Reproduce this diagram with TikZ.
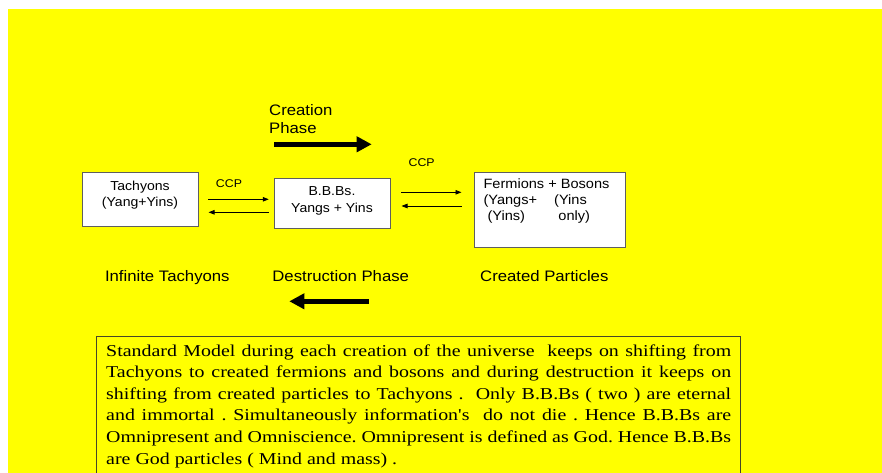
\documentclass[tikz,border=0pt]{standalone}
\usepackage{fontspec}
\setmainfont{Liberation Serif}
\setsansfont{Liberation Sans}
\newfontfamily\sansx[FakeStretch=1.1]{Liberation Sans}
\newfontfamily\sansb[FakeStretch=1.08]{Liberation Sans}
\newfontfamily\serifx[FakeStretch=1.2]{Liberation Serif}
\usetikzlibrary{arrows.meta}
\definecolor{bgyellow}{RGB}{255,255,0}
\definecolor{boxgray}{RGB}{95,95,95}
\definecolor{framegray}{RGB}{70,70,40}
\begin{document}
\frenchspacing
\begin{tikzpicture}[x=1pt,y=-1pt,
  box/.style={draw=boxgray, line width=1pt, fill=white, inner sep=0pt},
  boxtext/.style={font=\sansb\fontsize{13}{16.6}\selectfont, inner sep=0pt, anchor=base},
  lbl/.style={font=\sansx\fontsize{15.2}{17.6}\selectfont, inner sep=0pt, anchor=base},
  ccp/.style={font=\sansx\fontsize{11.2}{14}\selectfont, inner sep=0pt, anchor=base},
  thinarrow/.style={draw=black, line width=0.8pt, -{Triangle[length=6pt,width=4.5pt]}},
  bigarrow/.style={draw=black, line width=4.7pt, -{Triangle[length=15pt,width=15pt]}}
]
\useasboundingbox (0,0) rectangle (882,473);
\fill[bgyellow] (8,9) rectangle (882,473);

% boxes
\node[box, minimum width=116pt, minimum height=54pt] (T) at (140,199) {};
\node[box, minimum width=116pt, minimum height=50pt] (B) at (332,203) {};
\node[box, minimum width=151pt, minimum height=75pt] (F) at (549.5,209.5) {};

% box texts
\node[boxtext] (Tt) at (140,190) {\begin{tabular}[t]{@{}c@{}}Tachyons\\(Yang+Yins)\end{tabular}};
\node[boxtext] (Bt) at (332,195.5) {\begin{tabular}[t]{@{}c@{}}B.B.Bs.\\Yangs + Yins\end{tabular}};
\node[boxtext, anchor=base west, font=\sansb\fontsize{13.5}{16}\selectfont] (Ft) at (483.3,188.7)
  {\begin{tabular}[t]{@{}l@{}}Fermions + Bosons\\\makebox[70.7pt][l]{(Yangs+}(Yins\\\makebox[70.7pt][l]{\hspace{4pt}(Yins)}\hspace{4.3pt}only)\end{tabular}};

% CCP labels
\node[ccp] (c1) at (229,187.3) {CCP};
\node[ccp] (c2) at (421.7,166) {CCP};

% thin arrows
\coordinate (y1) at (0,199.3);
\coordinate (y2) at (0,212.3);
\coordinate (y3) at (0,192.3);
\coordinate (y4) at (0,206);
\draw[thinarrow, shorten <=9.7pt, shorten >=4.7pt] (T.east |- y1) -- (B.west |- y1);
\draw[thinarrow, shorten <=5pt, shorten >=10pt] (B.west |- y2) -- (T.east |- y2);
\draw[thinarrow, shorten <=10.7pt, shorten >=12pt] (B.east |- y3) -- (F.west |- y3);
\draw[thinarrow, shorten <=12pt, shorten >=11pt] (F.west |- y4) -- (B.east |- y4);

% phase labels and big arrows
\node[lbl, anchor=base west] (cp) at (269,115.7) {\begin{tabular}[t]{@{}l@{}}Creation\\Phase\end{tabular}};
\coordinate (cs) at (274.3,144.3);
\coordinate (ce) at (371.7,144.3);
\draw[bigarrow] (cs) -- (ce);

\node[lbl] (it) at (167.3,281) {Infinite Tachyons};
\node[lbl] (dp) at (340.7,281) {Destruction Phase};
\node[lbl] (cpart) at (544.3,281) {Created Particles};
\coordinate (ds) at (369,301.3);
\coordinate (de) at (289.3,301.3);
\draw[bigarrow] (ds) -- (de);

% bottom text box
\draw[framegray, line width=1pt] (96.5,480) -- (96.5,336.5) -- (740,336.5) -- (740,480);
\node[inner sep=0pt, anchor=base west, font=\serifx\fontsize{16.6}{21.6}\selectfont] (P) at (106,356)
  {\parbox[t]{625pt}{Standard Model during each creation of the universe\ \ keeps on shifting from\linebreak
  Tachyons to created fermions and bosons and during destruction it keeps on\linebreak
  shifting from created particles to Tachyons .\ \ Only B.B.Bs ( two ) are eternal\linebreak
  and immortal . Simultaneously information's\ \ do not die . Hence B.B.Bs are\linebreak
  Omnipresent and Omniscience. Omnipresent is defined as God. Hence B.B.Bs\linebreak
  are God particles ( Mind and mass) .}};
\end{tikzpicture}
\end{document}
